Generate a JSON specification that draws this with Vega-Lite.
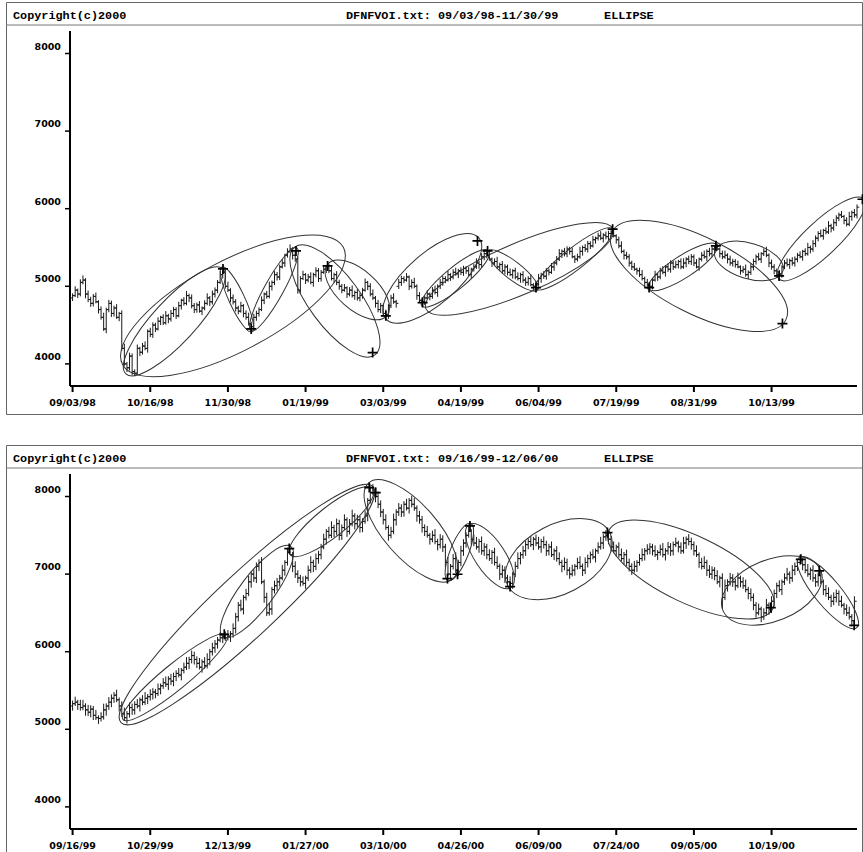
{
"$schema": "https://vega.github.io/schema/vega-lite/v6.json",
"padding": {"left": 5, "top": 1, "right": 1, "bottom": 0},
"params": [{"name": "kx", "expr": "787/304"}, {"name": "ky", "expr": "355/4575"}],
"config": {"view": {"stroke": "#666", "strokeWidth": 1}},
"spacing": 29,
"datasets": {
"topBars": [
{"i":0,"o":4850,"h":4910,"l":4810,"c":4880},{"i":1,"o":4880,"h":5000,"l":4860,"c":4950},{"i":2,"o":4950,"h":4970,"l":4850,"c":4900},{"i":3,"o":4900,"h":5090,"l":4870,"c":5050},{"i":4,"o":5050,"h":5140,"l":5025,"c":5080},{"i":5,"o":5080,"h":5105,"l":4845,"c":4900},{"i":6,"o":4900,"h":4945,"l":4795,"c":4830},{"i":7,"o":4830,"h":4865,"l":4735,"c":4780},{"i":8,"o":4780,"h":4900,"l":4740,"c":4870},{"i":9,"o":4870,"h":4920,"l":4780,"c":4800},
{"i":10,"o":4800,"h":4820,"l":4650,"c":4700},{"i":11,"o":4700,"h":4740,"l":4570,"c":4600},{"i":12,"o":4600,"h":4660,"l":4425,"c":4450},{"i":13,"o":4450,"h":4725,"l":4395,"c":4700},{"i":14,"o":4700,"h":4825,"l":4665,"c":4780},{"i":15,"o":4780,"h":4815,"l":4605,"c":4650},{"i":16,"o":4650,"h":4750,"l":4610,"c":4720},{"i":17,"o":4720,"h":4770,"l":4580,"c":4600},{"i":18,"o":4600,"h":4670,"l":4550,"c":4650},{"i":19,"o":4650,"h":4690,"l":4170,"c":4200},
{"i":20,"o":4200,"h":4260,"l":3975,"c":4000},{"i":21,"o":4000,"h":4025,"l":3895,"c":3950},{"i":22,"o":3950,"h":4145,"l":3915,"c":4100},{"i":23,"o":4100,"h":4135,"l":3855,"c":3900},{"i":24,"o":3900,"h":3930,"l":3840,"c":3880},{"i":25,"o":3880,"h":4250,"l":3860,"c":4200},{"i":26,"o":4200,"h":4220,"l":4100,"c":4150},{"i":27,"o":4150,"h":4270,"l":4120,"c":4230},{"i":28,"o":4230,"h":4290,"l":4175,"c":4200},{"i":29,"o":4200,"h":4445,"l":4145,"c":4420},
{"i":30,"o":4420,"h":4465,"l":4345,"c":4380},{"i":31,"o":4380,"h":4535,"l":4335,"c":4500},{"i":32,"o":4500,"h":4530,"l":4410,"c":4450},{"i":33,"o":4450,"h":4600,"l":4430,"c":4550},{"i":34,"o":4550,"h":4620,"l":4500,"c":4600},{"i":35,"o":4600,"h":4640,"l":4500,"c":4530},{"i":36,"o":4530,"h":4680,"l":4505,"c":4620},{"i":37,"o":4620,"h":4645,"l":4525,"c":4580},{"i":38,"o":4580,"h":4695,"l":4545,"c":4650},{"i":39,"o":4650,"h":4735,"l":4605,"c":4700},
{"i":40,"o":4700,"h":4730,"l":4580,"c":4620},{"i":41,"o":4620,"h":4800,"l":4600,"c":4750},{"i":42,"o":4750,"h":4840,"l":4700,"c":4820},{"i":43,"o":4820,"h":4860,"l":4750,"c":4780},{"i":44,"o":4780,"h":4940,"l":4755,"c":4880},{"i":45,"o":4880,"h":4905,"l":4795,"c":4850},{"i":46,"o":4850,"h":4895,"l":4715,"c":4750},{"i":47,"o":4750,"h":4785,"l":4655,"c":4700},{"i":48,"o":4700,"h":4790,"l":4660,"c":4760},{"i":49,"o":4760,"h":4810,"l":4660,"c":4680},
{"i":50,"o":4680,"h":4740,"l":4630,"c":4720},{"i":51,"o":4720,"h":4820,"l":4690,"c":4780},{"i":52,"o":4780,"h":4910,"l":4755,"c":4850},{"i":53,"o":4850,"h":4875,"l":4745,"c":4800},{"i":54,"o":4800,"h":4945,"l":4765,"c":4900},{"i":55,"o":4900,"h":4985,"l":4855,"c":4950},{"i":56,"o":4950,"h":5080,"l":4910,"c":5050},{"i":57,"o":5050,"h":5200,"l":5030,"c":5150},{"i":58,"o":5150,"h":5200,"l":5100,"c":5180},{"i":59,"o":5180,"h":5220,"l":4970,"c":5000},
{"i":60,"o":5000,"h":5060,"l":4925,"c":4950},{"i":61,"o":4950,"h":4975,"l":4795,"c":4850},{"i":62,"o":4850,"h":4895,"l":4765,"c":4800},{"i":63,"o":4800,"h":4835,"l":4675,"c":4720},{"i":64,"o":4720,"h":4750,"l":4640,"c":4680},{"i":65,"o":4680,"h":4800,"l":4660,"c":4750},{"i":66,"o":4750,"h":4770,"l":4600,"c":4650},{"i":67,"o":4650,"h":4690,"l":4570,"c":4600},{"i":68,"o":4600,"h":4660,"l":4495,"c":4520},{"i":69,"o":4520,"h":4545,"l":4425,"c":4480},
{"i":70,"o":4480,"h":4645,"l":4445,"c":4600},{"i":71,"o":4600,"h":4685,"l":4555,"c":4650},{"i":72,"o":4650,"h":4730,"l":4610,"c":4700},{"i":73,"o":4700,"h":4870,"l":4680,"c":4820},{"i":74,"o":4820,"h":4920,"l":4770,"c":4900},{"i":75,"o":4900,"h":4940,"l":4840,"c":4870},{"i":76,"o":4870,"h":5060,"l":4845,"c":5000},{"i":77,"o":5000,"h":5075,"l":4945,"c":5050},{"i":78,"o":5050,"h":5195,"l":5015,"c":5150},{"i":79,"o":5150,"h":5185,"l":5075,"c":5120},
{"i":80,"o":5120,"h":5280,"l":5080,"c":5250},{"i":81,"o":5250,"h":5350,"l":5230,"c":5300},{"i":82,"o":5300,"h":5420,"l":5250,"c":5400},{"i":83,"o":5400,"h":5490,"l":5370,"c":5450},{"i":84,"o":5450,"h":5540,"l":5425,"c":5480},{"i":85,"o":5480,"h":5505,"l":5345,"c":5400},{"i":86,"o":5400,"h":5445,"l":5315,"c":5350},{"i":87,"o":5350,"h":5385,"l":4905,"c":4950},{"i":88,"o":4950,"h":5130,"l":4910,"c":5100},{"i":89,"o":5100,"h":5200,"l":5080,"c":5150},
{"i":90,"o":5150,"h":5170,"l":5030,"c":5080},{"i":91,"o":5080,"h":5160,"l":5050,"c":5120},{"i":92,"o":5120,"h":5180,"l":5025,"c":5050},{"i":93,"o":5050,"h":5175,"l":4995,"c":5150},{"i":94,"o":5150,"h":5245,"l":5115,"c":5200},{"i":95,"o":5200,"h":5235,"l":5055,"c":5100},{"i":96,"o":5100,"h":5210,"l":5060,"c":5180},{"i":97,"o":5180,"h":5270,"l":5160,"c":5220},{"i":98,"o":5220,"h":5270,"l":5170,"c":5250},{"i":99,"o":5250,"h":5290,"l":5170,"c":5200},
{"i":100,"o":5200,"h":5260,"l":5075,"c":5100},{"i":101,"o":5100,"h":5175,"l":5045,"c":5150},{"i":102,"o":5150,"h":5195,"l":5015,"c":5050},{"i":103,"o":5050,"h":5085,"l":4955,"c":5000},{"i":104,"o":5000,"h":5030,"l":4910,"c":4950},{"i":105,"o":4950,"h":5030,"l":4930,"c":4980},{"i":106,"o":4980,"h":5000,"l":4850,"c":4900},{"i":107,"o":4900,"h":4990,"l":4870,"c":4950},{"i":108,"o":4950,"h":5010,"l":4855,"c":4880},{"i":109,"o":4880,"h":4945,"l":4825,"c":4920},
{"i":110,"o":4920,"h":4965,"l":4815,"c":4850},{"i":111,"o":4850,"h":4915,"l":4805,"c":4880},{"i":112,"o":4880,"h":4980,"l":4840,"c":4950},{"i":113,"o":4950,"h":5100,"l":4930,"c":5050},{"i":114,"o":5050,"h":5070,"l":4950,"c":5000},{"i":115,"o":5000,"h":5040,"l":4870,"c":4900},{"i":116,"o":4900,"h":4960,"l":4825,"c":4850},{"i":117,"o":4850,"h":4875,"l":4725,"c":4780},{"i":118,"o":4780,"h":4825,"l":4665,"c":4700},{"i":119,"o":4700,"h":4785,"l":4655,"c":4750},
{"i":120,"o":4750,"h":4780,"l":4610,"c":4650},{"i":121,"o":4650,"h":4700,"l":4610,"c":4630},{"i":122,"o":4630,"h":4770,"l":4580,"c":4750},{"i":123,"o":4750,"h":4890,"l":4720,"c":4850},{"i":124,"o":4850,"h":4910,"l":4775,"c":4800},{"i":125,"o":4800,"h":4825,"l":4725,"c":4780},{"i":126,"o":5000,"h":5095,"l":4965,"c":5050},{"i":127,"o":5050,"h":5135,"l":5005,"c":5100},{"i":128,"o":5100,"h":5130,"l":5040,"c":5080},{"i":129,"o":5080,"h":5170,"l":5060,"c":5120},
{"i":130,"o":5120,"h":5140,"l":4950,"c":5000},{"i":131,"o":5000,"h":5090,"l":4970,"c":5050},{"i":132,"o":5050,"h":5110,"l":4975,"c":5000},{"i":133,"o":5000,"h":5025,"l":4825,"c":4880},{"i":134,"o":4880,"h":4925,"l":4785,"c":4820},{"i":135,"o":4820,"h":4855,"l":4755,"c":4800},{"i":136,"o":4800,"h":4880,"l":4760,"c":4850},{"i":137,"o":4850,"h":4950,"l":4830,"c":4900},{"i":138,"o":4900,"h":4920,"l":4820,"c":4870},{"i":139,"o":4870,"h":4990,"l":4840,"c":4950},
{"i":140,"o":4950,"h":5010,"l":4895,"c":4920},{"i":141,"o":4920,"h":5025,"l":4865,"c":5000},{"i":142,"o":5000,"h":5095,"l":4965,"c":5050},{"i":143,"o":5050,"h":5135,"l":5005,"c":5100},{"i":144,"o":5100,"h":5130,"l":5040,"c":5080},{"i":145,"o":5080,"h":5200,"l":5060,"c":5150},{"i":146,"o":5150,"h":5170,"l":5070,"c":5120},{"i":147,"o":5120,"h":5220,"l":5090,"c":5180},{"i":148,"o":5180,"h":5240,"l":5135,"c":5160},{"i":149,"o":5160,"h":5225,"l":5105,"c":5200},
{"i":150,"o":5200,"h":5245,"l":5145,"c":5180},{"i":151,"o":5180,"h":5265,"l":5135,"c":5230},{"i":152,"o":5230,"h":5260,"l":5160,"c":5200},{"i":153,"o":5200,"h":5250,"l":5130,"c":5150},{"i":154,"o":5150,"h":5240,"l":5100,"c":5220},{"i":155,"o":5220,"h":5290,"l":5190,"c":5250},{"i":156,"o":5250,"h":5360,"l":5225,"c":5300},{"i":157,"o":5300,"h":5325,"l":5225,"c":5280},{"i":158,"o":5280,"h":5425,"l":5245,"c":5380},{"i":159,"o":5380,"h":5455,"l":5335,"c":5420},
{"i":160,"o":5420,"h":5450,"l":5360,"c":5400},{"i":161,"o":5400,"h":5450,"l":5330,"c":5350},{"i":162,"o":5350,"h":5370,"l":5250,"c":5300},{"i":163,"o":5300,"h":5360,"l":5270,"c":5320},{"i":164,"o":5320,"h":5380,"l":5225,"c":5250},{"i":165,"o":5250,"h":5305,"l":5195,"c":5280},{"i":166,"o":5280,"h":5325,"l":5165,"c":5200},{"i":167,"o":5200,"h":5285,"l":5155,"c":5250},{"i":168,"o":5250,"h":5280,"l":5140,"c":5180},{"i":169,"o":5180,"h":5230,"l":5130,"c":5150},
{"i":170,"o":5150,"h":5220,"l":5100,"c":5200},{"i":171,"o":5200,"h":5240,"l":5090,"c":5120},{"i":172,"o":5120,"h":5180,"l":5075,"c":5100},{"i":173,"o":5100,"h":5175,"l":5045,"c":5150},{"i":174,"o":5150,"h":5195,"l":5045,"c":5080},{"i":175,"o":5080,"h":5115,"l":5005,"c":5050},{"i":176,"o":5050,"h":5130,"l":5010,"c":5100},{"i":177,"o":5100,"h":5150,"l":5000,"c":5020},{"i":178,"o":5020,"h":5040,"l":4950,"c":5000},{"i":179,"o":5000,"h":5070,"l":4970,"c":5030},
{"i":180,"o":5030,"h":5160,"l":5005,"c":5100},{"i":181,"o":5100,"h":5175,"l":5045,"c":5150},{"i":182,"o":5150,"h":5195,"l":5095,"c":5130},{"i":183,"o":5130,"h":5235,"l":5085,"c":5200},{"i":184,"o":5200,"h":5230,"l":5140,"c":5180},{"i":185,"o":5180,"h":5300,"l":5160,"c":5250},{"i":186,"o":5250,"h":5320,"l":5200,"c":5300},{"i":187,"o":5300,"h":5390,"l":5270,"c":5350},{"i":188,"o":5350,"h":5480,"l":5325,"c":5420},{"i":189,"o":5420,"h":5475,"l":5365,"c":5450},
{"i":190,"o":5450,"h":5495,"l":5385,"c":5420},{"i":191,"o":5420,"h":5515,"l":5375,"c":5480},{"i":192,"o":5480,"h":5510,"l":5410,"c":5450},{"i":193,"o":5450,"h":5500,"l":5360,"c":5380},{"i":194,"o":5380,"h":5400,"l":5300,"c":5350},{"i":195,"o":5350,"h":5420,"l":5320,"c":5380},{"i":196,"o":5380,"h":5510,"l":5355,"c":5450},{"i":197,"o":5450,"h":5525,"l":5395,"c":5500},{"i":198,"o":5500,"h":5545,"l":5445,"c":5480},{"i":199,"o":5480,"h":5585,"l":5435,"c":5550},
{"i":200,"o":5550,"h":5580,"l":5480,"c":5520},{"i":201,"o":5520,"h":5650,"l":5500,"c":5600},{"i":202,"o":5600,"h":5640,"l":5550,"c":5620},{"i":203,"o":5620,"h":5690,"l":5590,"c":5650},{"i":204,"o":5650,"h":5710,"l":5595,"c":5620},{"i":205,"o":5620,"h":5685,"l":5565,"c":5660},{"i":206,"o":5660,"h":5705,"l":5605,"c":5640},{"i":207,"o":5640,"h":5715,"l":5595,"c":5680},{"i":208,"o":5680,"h":5730,"l":5640,"c":5700},{"i":209,"o":5700,"h":5750,"l":5630,"c":5650},
{"i":210,"o":5650,"h":5670,"l":5550,"c":5600},{"i":211,"o":5600,"h":5640,"l":5490,"c":5520},{"i":212,"o":5520,"h":5580,"l":5425,"c":5450},{"i":213,"o":5450,"h":5475,"l":5345,"c":5400},{"i":214,"o":5400,"h":5445,"l":5345,"c":5380},{"i":215,"o":5380,"h":5415,"l":5255,"c":5300},{"i":216,"o":5300,"h":5330,"l":5210,"c":5250},{"i":217,"o":5250,"h":5300,"l":5200,"c":5220},{"i":218,"o":5220,"h":5240,"l":5150,"c":5200},{"i":219,"o":5200,"h":5240,"l":5120,"c":5150},
{"i":220,"o":5150,"h":5210,"l":5075,"c":5100},{"i":221,"o":5100,"h":5125,"l":4995,"c":5050},{"i":222,"o":5050,"h":5095,"l":4985,"c":5020},{"i":223,"o":5020,"h":5055,"l":4955,"c":5000},{"i":224,"o":5000,"h":5110,"l":4960,"c":5080},{"i":225,"o":5080,"h":5200,"l":5060,"c":5150},{"i":226,"o":5150,"h":5170,"l":5070,"c":5120},{"i":227,"o":5120,"h":5240,"l":5090,"c":5200},{"i":228,"o":5200,"h":5260,"l":5155,"c":5180},{"i":229,"o":5180,"h":5275,"l":5125,"c":5250},
{"i":230,"o":5250,"h":5295,"l":5185,"c":5220},{"i":231,"o":5220,"h":5335,"l":5175,"c":5300},{"i":232,"o":5300,"h":5330,"l":5210,"c":5250},{"i":233,"o":5250,"h":5330,"l":5230,"c":5280},{"i":234,"o":5280,"h":5340,"l":5230,"c":5320},{"i":235,"o":5320,"h":5360,"l":5220,"c":5250},{"i":236,"o":5250,"h":5360,"l":5225,"c":5300},{"i":237,"o":5300,"h":5375,"l":5245,"c":5350},{"i":238,"o":5350,"h":5395,"l":5285,"c":5320},{"i":239,"o":5320,"h":5415,"l":5275,"c":5380},
{"i":240,"o":5380,"h":5410,"l":5260,"c":5300},{"i":241,"o":5300,"h":5350,"l":5230,"c":5250},{"i":242,"o":5250,"h":5370,"l":5200,"c":5350},{"i":243,"o":5350,"h":5440,"l":5320,"c":5400},{"i":244,"o":5400,"h":5460,"l":5355,"c":5380},{"i":245,"o":5380,"h":5475,"l":5325,"c":5450},{"i":246,"o":5450,"h":5495,"l":5385,"c":5420},{"i":247,"o":5420,"h":5515,"l":5375,"c":5480},{"i":248,"o":5480,"h":5530,"l":5440,"c":5500},{"i":249,"o":5500,"h":5550,"l":5460,"c":5480},
{"i":250,"o":5480,"h":5500,"l":5370,"c":5420},{"i":251,"o":5420,"h":5460,"l":5350,"c":5380},{"i":252,"o":5380,"h":5460,"l":5355,"c":5400},{"i":253,"o":5400,"h":5425,"l":5295,"c":5350},{"i":254,"o":5350,"h":5395,"l":5265,"c":5300},{"i":255,"o":5300,"h":5355,"l":5255,"c":5320},{"i":256,"o":5320,"h":5350,"l":5240,"c":5280},{"i":257,"o":5280,"h":5330,"l":5230,"c":5250},{"i":258,"o":5250,"h":5270,"l":5150,"c":5200},{"i":259,"o":5200,"h":5260,"l":5170,"c":5220},
{"i":260,"o":5220,"h":5280,"l":5125,"c":5150},{"i":261,"o":5150,"h":5205,"l":5095,"c":5180},{"i":262,"o":5180,"h":5295,"l":5145,"c":5250},{"i":263,"o":5250,"h":5355,"l":5205,"c":5320},{"i":264,"o":5320,"h":5410,"l":5280,"c":5380},{"i":265,"o":5380,"h":5430,"l":5330,"c":5350},{"i":266,"o":5350,"h":5440,"l":5300,"c":5420},{"i":267,"o":5420,"h":5490,"l":5390,"c":5450},{"i":268,"o":5450,"h":5510,"l":5375,"c":5400},{"i":269,"o":5400,"h":5425,"l":5245,"c":5300},
{"i":270,"o":5300,"h":5345,"l":5215,"c":5250},{"i":271,"o":5250,"h":5285,"l":5155,"c":5200},{"i":272,"o":5200,"h":5230,"l":5110,"c":5150},{"i":273,"o":5150,"h":5210,"l":5130,"c":5160},{"i":274,"o":5160,"h":5270,"l":5110,"c":5250},{"i":275,"o":5250,"h":5340,"l":5220,"c":5300},{"i":276,"o":5300,"h":5360,"l":5255,"c":5280},{"i":277,"o":5280,"h":5355,"l":5225,"c":5330},{"i":278,"o":5330,"h":5375,"l":5265,"c":5300},{"i":279,"o":5300,"h":5385,"l":5255,"c":5350},
{"i":280,"o":5350,"h":5430,"l":5310,"c":5400},{"i":281,"o":5400,"h":5450,"l":5360,"c":5380},{"i":282,"o":5380,"h":5470,"l":5330,"c":5450},{"i":283,"o":5450,"h":5490,"l":5390,"c":5420},{"i":284,"o":5420,"h":5560,"l":5395,"c":5500},{"i":285,"o":5500,"h":5525,"l":5425,"c":5480},{"i":286,"o":5480,"h":5595,"l":5445,"c":5550},{"i":287,"o":5550,"h":5655,"l":5505,"c":5620},{"i":288,"o":5620,"h":5710,"l":5580,"c":5680},{"i":289,"o":5680,"h":5730,"l":5630,"c":5650},
{"i":290,"o":5650,"h":5740,"l":5600,"c":5720},{"i":291,"o":5720,"h":5760,"l":5670,"c":5700},{"i":292,"o":5700,"h":5840,"l":5675,"c":5780},{"i":293,"o":5780,"h":5805,"l":5695,"c":5750},{"i":294,"o":5750,"h":5865,"l":5715,"c":5820},{"i":295,"o":5820,"h":5915,"l":5775,"c":5880},{"i":296,"o":5880,"h":5950,"l":5840,"c":5920},{"i":297,"o":5920,"h":5970,"l":5880,"c":5900},{"i":298,"o":5900,"h":5920,"l":5800,"c":5850},{"i":299,"o":5850,"h":5890,"l":5770,"c":5800},
{"i":300,"o":5800,"h":5960,"l":5775,"c":5900},{"i":301,"o":5900,"h":5975,"l":5845,"c":5950},{"i":302,"o":5950,"h":5995,"l":5885,"c":5920},{"i":303,"o":5920,"h":6055,"l":5875,"c":6020}
],
"botBars": [
{"i":0,"o":5300,"h":5370,"l":5240,"c":5330},{"i":1,"o":5330,"h":5420,"l":5300,"c":5350},{"i":2,"o":5350,"h":5380,"l":5250,"c":5320},{"i":3,"o":5320,"h":5380,"l":5240,"c":5280},{"i":4,"o":5280,"h":5380,"l":5245,"c":5300},{"i":5,"o":5300,"h":5335,"l":5175,"c":5250},{"i":6,"o":5250,"h":5315,"l":5170,"c":5220},{"i":7,"o":5220,"h":5310,"l":5155,"c":5260},{"i":8,"o":5260,"h":5300,"l":5120,"c":5180},{"i":9,"o":5180,"h":5250,"l":5120,"c":5150},
{"i":10,"o":5150,"h":5180,"l":5070,"c":5140},{"i":11,"o":5140,"h":5220,"l":5100,"c":5160},{"i":12,"o":5160,"h":5330,"l":5125,"c":5250},{"i":13,"o":5250,"h":5335,"l":5175,"c":5300},{"i":14,"o":5300,"h":5415,"l":5250,"c":5350},{"i":15,"o":5350,"h":5450,"l":5285,"c":5400},{"i":16,"o":5400,"h":5480,"l":5340,"c":5440},{"i":17,"o":5440,"h":5510,"l":5350,"c":5380},{"i":18,"o":5380,"h":5410,"l":5230,"c":5300},{"i":19,"o":5300,"h":5360,"l":5160,"c":5200},
{"i":20,"o":5200,"h":5280,"l":5115,"c":5150},{"i":21,"o":5150,"h":5235,"l":5075,"c":5200},{"i":22,"o":5200,"h":5345,"l":5150,"c":5280},{"i":23,"o":5280,"h":5330,"l":5185,"c":5250},{"i":24,"o":5250,"h":5360,"l":5190,"c":5320},{"i":25,"o":5320,"h":5390,"l":5270,"c":5300},{"i":26,"o":5300,"h":5410,"l":5230,"c":5380},{"i":27,"o":5380,"h":5440,"l":5310,"c":5350},{"i":28,"o":5350,"h":5480,"l":5315,"c":5400},{"i":29,"o":5400,"h":5455,"l":5325,"c":5420},
{"i":30,"o":5420,"h":5515,"l":5370,"c":5450},{"i":31,"o":5450,"h":5530,"l":5385,"c":5480},{"i":32,"o":5480,"h":5520,"l":5400,"c":5460},{"i":33,"o":5460,"h":5590,"l":5430,"c":5520},{"i":34,"o":5520,"h":5590,"l":5450,"c":5560},{"i":35,"o":5560,"h":5660,"l":5520,"c":5600},{"i":36,"o":5600,"h":5680,"l":5545,"c":5580},{"i":37,"o":5580,"h":5685,"l":5505,"c":5650},{"i":38,"o":5650,"h":5715,"l":5570,"c":5620},{"i":39,"o":5620,"h":5730,"l":5555,"c":5680},
{"i":40,"o":5680,"h":5760,"l":5620,"c":5720},{"i":41,"o":5720,"h":5790,"l":5670,"c":5700},{"i":42,"o":5700,"h":5790,"l":5630,"c":5760},{"i":43,"o":5760,"h":5860,"l":5720,"c":5800},{"i":44,"o":5800,"h":5930,"l":5765,"c":5850},{"i":45,"o":5850,"h":5935,"l":5775,"c":5900},{"i":46,"o":5900,"h":6015,"l":5850,"c":5950},{"i":47,"o":5950,"h":6000,"l":5835,"c":5900},{"i":48,"o":5900,"h":5940,"l":5790,"c":5850},{"i":49,"o":5850,"h":5920,"l":5770,"c":5800},
{"i":50,"o":5800,"h":5900,"l":5730,"c":5870},{"i":51,"o":5870,"h":5930,"l":5780,"c":5820},{"i":52,"o":5820,"h":5980,"l":5785,"c":5900},{"i":53,"o":5900,"h":6035,"l":5825,"c":6000},{"i":54,"o":6000,"h":6115,"l":5950,"c":6050},{"i":55,"o":6050,"h":6150,"l":5985,"c":6100},{"i":56,"o":6100,"h":6190,"l":6040,"c":6150},{"i":57,"o":6150,"h":6250,"l":6120,"c":6180},{"i":58,"o":6180,"h":6230,"l":6110,"c":6200},{"i":59,"o":6200,"h":6260,"l":6140,"c":6180},
{"i":60,"o":6180,"h":6280,"l":6145,"c":6200},{"i":61,"o":6200,"h":6265,"l":6125,"c":6230},{"i":62,"o":6230,"h":6365,"l":6180,"c":6300},{"i":63,"o":6300,"h":6500,"l":6235,"c":6450},{"i":64,"o":6450,"h":6640,"l":6390,"c":6600},{"i":65,"o":6600,"h":6670,"l":6520,"c":6550},{"i":66,"o":6550,"h":6730,"l":6480,"c":6700},{"i":67,"o":6700,"h":6810,"l":6660,"c":6750},{"i":68,"o":6750,"h":6980,"l":6715,"c":6900},{"i":69,"o":6900,"h":7035,"l":6825,"c":7000},
{"i":70,"o":7000,"h":7065,"l":6900,"c":6950},{"i":71,"o":6950,"h":7150,"l":6885,"c":7100},{"i":72,"o":7100,"h":7190,"l":7040,"c":7150},{"i":73,"o":7150,"h":7220,"l":6870,"c":6900},{"i":74,"o":6900,"h":6930,"l":6630,"c":6700},{"i":75,"o":6700,"h":6760,"l":6460,"c":6500},{"i":76,"o":6500,"h":6630,"l":6465,"c":6550},{"i":77,"o":6550,"h":6835,"l":6475,"c":6800},{"i":78,"o":6800,"h":6915,"l":6750,"c":6850},{"i":79,"o":6850,"h":6950,"l":6785,"c":6900},
{"i":80,"o":6900,"h":6990,"l":6840,"c":6950},{"i":81,"o":6950,"h":7120,"l":6920,"c":7050},{"i":82,"o":7050,"h":7180,"l":6980,"c":7150},{"i":83,"o":7150,"h":7340,"l":7110,"c":7280},{"i":84,"o":7280,"h":7360,"l":7245,"c":7250},{"i":85,"o":7250,"h":7285,"l":7025,"c":7100},{"i":86,"o":7100,"h":7165,"l":6950,"c":7000},{"i":87,"o":7000,"h":7050,"l":6885,"c":6950},{"i":88,"o":6950,"h":6990,"l":6840,"c":6900},{"i":89,"o":6900,"h":6970,"l":6850,"c":6880},
{"i":90,"o":6880,"h":6980,"l":6810,"c":6950},{"i":91,"o":6950,"h":7110,"l":6910,"c":7050},{"i":92,"o":7050,"h":7230,"l":7015,"c":7150},{"i":93,"o":7150,"h":7185,"l":7025,"c":7100},{"i":94,"o":7100,"h":7265,"l":7050,"c":7200},{"i":95,"o":7200,"h":7300,"l":7135,"c":7250},{"i":96,"o":7250,"h":7390,"l":7190,"c":7350},{"i":97,"o":7350,"h":7520,"l":7320,"c":7450},{"i":98,"o":7450,"h":7580,"l":7380,"c":7550},{"i":99,"o":7550,"h":7610,"l":7460,"c":7500},
{"i":100,"o":7500,"h":7680,"l":7465,"c":7600},{"i":101,"o":7600,"h":7635,"l":7475,"c":7550},{"i":102,"o":7550,"h":7715,"l":7500,"c":7650},{"i":103,"o":7650,"h":7700,"l":7435,"c":7500},{"i":104,"o":7500,"h":7640,"l":7440,"c":7600},{"i":105,"o":7600,"h":7770,"l":7570,"c":7700},{"i":106,"o":7700,"h":7730,"l":7480,"c":7550},{"i":107,"o":7550,"h":7710,"l":7510,"c":7650},{"i":108,"o":7650,"h":7830,"l":7615,"c":7750},{"i":109,"o":7750,"h":7785,"l":7575,"c":7650},
{"i":110,"o":7650,"h":7765,"l":7600,"c":7700},{"i":111,"o":7700,"h":7750,"l":7535,"c":7600},{"i":112,"o":7600,"h":7720,"l":7540,"c":7680},{"i":113,"o":7680,"h":7820,"l":7650,"c":7750},{"i":114,"o":7750,"h":7980,"l":7680,"c":7950},{"i":115,"o":7950,"h":8110,"l":7910,"c":8050},{"i":116,"o":8050,"h":8160,"l":8015,"c":8080},{"i":117,"o":8080,"h":8115,"l":7925,"c":8000},{"i":118,"o":8000,"h":8065,"l":7850,"c":7900},{"i":119,"o":7900,"h":7950,"l":7735,"c":7800},
{"i":120,"o":7800,"h":7840,"l":7640,"c":7700},{"i":121,"o":7700,"h":7770,"l":7570,"c":7600},{"i":122,"o":7600,"h":7630,"l":7430,"c":7500},{"i":123,"o":7500,"h":7610,"l":7460,"c":7550},{"i":124,"o":7550,"h":7780,"l":7515,"c":7700},{"i":125,"o":7700,"h":7835,"l":7625,"c":7800},{"i":126,"o":7800,"h":7915,"l":7750,"c":7850},{"i":127,"o":7850,"h":7900,"l":7735,"c":7800},{"i":128,"o":7800,"h":7940,"l":7740,"c":7900},{"i":129,"o":7900,"h":7970,"l":7820,"c":7850},
{"i":130,"o":7850,"h":7980,"l":7780,"c":7950},{"i":131,"o":7950,"h":8010,"l":7860,"c":7900},{"i":132,"o":7900,"h":7980,"l":7815,"c":7850},{"i":133,"o":7850,"h":7885,"l":7675,"c":7750},{"i":134,"o":7750,"h":7815,"l":7650,"c":7700},{"i":135,"o":7700,"h":7750,"l":7535,"c":7600},{"i":136,"o":7600,"h":7640,"l":7490,"c":7550},{"i":137,"o":7550,"h":7620,"l":7470,"c":7500},{"i":138,"o":7500,"h":7530,"l":7380,"c":7450},{"i":139,"o":7450,"h":7560,"l":7410,"c":7500},
{"i":140,"o":7500,"h":7580,"l":7385,"c":7420},{"i":141,"o":7420,"h":7455,"l":7305,"c":7380},{"i":142,"o":7380,"h":7515,"l":7330,"c":7450},{"i":143,"o":7450,"h":7500,"l":7285,"c":7350},{"i":144,"o":7350,"h":7390,"l":7090,"c":7150},{"i":145,"o":7150,"h":7220,"l":6970,"c":7000},{"i":146,"o":7000,"h":7130,"l":6930,"c":7100},{"i":147,"o":7100,"h":7260,"l":7060,"c":7200},{"i":148,"o":7200,"h":7280,"l":7015,"c":7050},{"i":149,"o":7050,"h":7185,"l":6975,"c":7150},
{"i":150,"o":7150,"h":7365,"l":7100,"c":7300},{"i":151,"o":7300,"h":7450,"l":7235,"c":7400},{"i":152,"o":7400,"h":7540,"l":7340,"c":7500},{"i":153,"o":7500,"h":7620,"l":7470,"c":7550},{"i":154,"o":7550,"h":7580,"l":7380,"c":7450},{"i":155,"o":7450,"h":7510,"l":7360,"c":7400},{"i":156,"o":7400,"h":7480,"l":7315,"c":7350},{"i":157,"o":7350,"h":7455,"l":7275,"c":7420},{"i":158,"o":7420,"h":7485,"l":7250,"c":7300},{"i":159,"o":7300,"h":7400,"l":7235,"c":7350},
{"i":160,"o":7350,"h":7390,"l":7190,"c":7250},{"i":161,"o":7250,"h":7320,"l":7170,"c":7200},{"i":162,"o":7200,"h":7310,"l":7130,"c":7280},{"i":163,"o":7280,"h":7340,"l":7110,"c":7150},{"i":164,"o":7150,"h":7230,"l":7065,"c":7100},{"i":165,"o":7100,"h":7135,"l":6925,"c":7000},{"i":166,"o":7000,"h":7115,"l":6950,"c":7050},{"i":167,"o":7050,"h":7100,"l":6885,"c":6950},{"i":168,"o":6950,"h":6990,"l":6840,"c":6900},{"i":169,"o":6900,"h":6970,"l":6850,"c":6880},
{"i":170,"o":6880,"h":7030,"l":6810,"c":7000},{"i":171,"o":7000,"h":7160,"l":6960,"c":7100},{"i":172,"o":7100,"h":7280,"l":7065,"c":7200},{"i":173,"o":7200,"h":7285,"l":7125,"c":7250},{"i":174,"o":7250,"h":7365,"l":7200,"c":7300},{"i":175,"o":7300,"h":7430,"l":7235,"c":7380},{"i":176,"o":7380,"h":7460,"l":7320,"c":7420},{"i":177,"o":7420,"h":7490,"l":7350,"c":7380},{"i":178,"o":7380,"h":7480,"l":7310,"c":7450},{"i":179,"o":7450,"h":7510,"l":7360,"c":7400},
{"i":180,"o":7400,"h":7480,"l":7315,"c":7350},{"i":181,"o":7350,"h":7455,"l":7275,"c":7420},{"i":182,"o":7420,"h":7485,"l":7330,"c":7380},{"i":183,"o":7380,"h":7430,"l":7235,"c":7300},{"i":184,"o":7300,"h":7390,"l":7240,"c":7350},{"i":185,"o":7350,"h":7420,"l":7220,"c":7250},{"i":186,"o":7250,"h":7330,"l":7180,"c":7300},{"i":187,"o":7300,"h":7360,"l":7160,"c":7200},{"i":188,"o":7200,"h":7280,"l":7115,"c":7150},{"i":189,"o":7150,"h":7185,"l":7025,"c":7100},
{"i":190,"o":7100,"h":7215,"l":7050,"c":7150},{"i":191,"o":7150,"h":7200,"l":6985,"c":7050},{"i":192,"o":7050,"h":7090,"l":6940,"c":7000},{"i":193,"o":7000,"h":7120,"l":6970,"c":7050},{"i":194,"o":7050,"h":7130,"l":6980,"c":7100},{"i":195,"o":7100,"h":7210,"l":7060,"c":7150},{"i":196,"o":7150,"h":7230,"l":7065,"c":7100},{"i":197,"o":7100,"h":7135,"l":6975,"c":7050},{"i":198,"o":7050,"h":7215,"l":7000,"c":7150},{"i":199,"o":7150,"h":7250,"l":7085,"c":7200},
{"i":200,"o":7200,"h":7290,"l":7140,"c":7250},{"i":201,"o":7250,"h":7320,"l":7190,"c":7220},{"i":202,"o":7220,"h":7330,"l":7150,"c":7300},{"i":203,"o":7300,"h":7410,"l":7260,"c":7350},{"i":204,"o":7350,"h":7480,"l":7315,"c":7400},{"i":205,"o":7400,"h":7515,"l":7325,"c":7480},{"i":206,"o":7480,"h":7565,"l":7430,"c":7500},{"i":207,"o":7500,"h":7550,"l":7385,"c":7450},{"i":208,"o":7450,"h":7490,"l":7290,"c":7350},{"i":209,"o":7350,"h":7420,"l":7270,"c":7300},
{"i":210,"o":7300,"h":7380,"l":7230,"c":7350},{"i":211,"o":7350,"h":7410,"l":7210,"c":7250},{"i":212,"o":7250,"h":7330,"l":7165,"c":7200},{"i":213,"o":7200,"h":7285,"l":7125,"c":7250},{"i":214,"o":7250,"h":7315,"l":7100,"c":7150},{"i":215,"o":7150,"h":7200,"l":7035,"c":7100},{"i":216,"o":7100,"h":7140,"l":6990,"c":7050},{"i":217,"o":7050,"h":7170,"l":7020,"c":7100},{"i":218,"o":7100,"h":7180,"l":7030,"c":7150},{"i":219,"o":7150,"h":7260,"l":7110,"c":7200},
{"i":220,"o":7200,"h":7330,"l":7165,"c":7250},{"i":221,"o":7250,"h":7335,"l":7175,"c":7300},{"i":222,"o":7300,"h":7385,"l":7250,"c":7320},{"i":223,"o":7320,"h":7400,"l":7255,"c":7350},{"i":224,"o":7350,"h":7390,"l":7240,"c":7300},{"i":225,"o":7300,"h":7370,"l":7220,"c":7250},{"i":226,"o":7250,"h":7310,"l":7180,"c":7280},{"i":227,"o":7280,"h":7380,"l":7240,"c":7320},{"i":228,"o":7320,"h":7400,"l":7215,"c":7250},{"i":229,"o":7250,"h":7335,"l":7175,"c":7300},
{"i":230,"o":7300,"h":7415,"l":7250,"c":7350},{"i":231,"o":7350,"h":7400,"l":7235,"c":7300},{"i":232,"o":7300,"h":7420,"l":7240,"c":7380},{"i":233,"o":7380,"h":7470,"l":7350,"c":7400},{"i":234,"o":7400,"h":7430,"l":7280,"c":7350},{"i":235,"o":7350,"h":7410,"l":7260,"c":7300},{"i":236,"o":7300,"h":7480,"l":7265,"c":7400},{"i":237,"o":7400,"h":7485,"l":7325,"c":7450},{"i":238,"o":7450,"h":7515,"l":7370,"c":7420},{"i":239,"o":7420,"h":7470,"l":7315,"c":7380},
{"i":240,"o":7380,"h":7420,"l":7240,"c":7300},{"i":241,"o":7300,"h":7370,"l":7220,"c":7250},{"i":242,"o":7250,"h":7280,"l":7080,"c":7150},{"i":243,"o":7150,"h":7210,"l":7060,"c":7100},{"i":244,"o":7100,"h":7230,"l":7065,"c":7150},{"i":245,"o":7150,"h":7185,"l":6975,"c":7050},{"i":246,"o":7050,"h":7115,"l":6950,"c":7000},{"i":247,"o":7000,"h":7100,"l":6935,"c":7050},{"i":248,"o":7050,"h":7090,"l":6920,"c":6980},{"i":249,"o":6980,"h":7050,"l":6870,"c":6900},
{"i":250,"o":6900,"h":6980,"l":6830,"c":6950},{"i":251,"o":6950,"h":7010,"l":6550,"c":6700},{"i":252,"o":6700,"h":6930,"l":6665,"c":6850},{"i":253,"o":6850,"h":6935,"l":6775,"c":6900},{"i":254,"o":6900,"h":7015,"l":6850,"c":6950},{"i":255,"o":6950,"h":7000,"l":6835,"c":6900},{"i":256,"o":6900,"h":6940,"l":6790,"c":6850},{"i":257,"o":6850,"h":7020,"l":6820,"c":6950},{"i":258,"o":6950,"h":6980,"l":6830,"c":6900},{"i":259,"o":6900,"h":6960,"l":6810,"c":6850},
{"i":260,"o":6850,"h":6930,"l":6765,"c":6800},{"i":261,"o":6800,"h":6835,"l":6675,"c":6750},{"i":262,"o":6750,"h":6815,"l":6650,"c":6700},{"i":263,"o":6700,"h":6750,"l":6535,"c":6600},{"i":264,"o":6600,"h":6640,"l":6440,"c":6500},{"i":265,"o":6500,"h":6620,"l":6470,"c":6550},{"i":266,"o":6550,"h":6580,"l":6380,"c":6450},{"i":267,"o":6450,"h":6560,"l":6410,"c":6500},{"i":268,"o":6500,"h":6680,"l":6465,"c":6600},{"i":269,"o":6600,"h":6635,"l":6475,"c":6550},
{"i":270,"o":6550,"h":6715,"l":6500,"c":6650},{"i":271,"o":6650,"h":6800,"l":6585,"c":6750},{"i":272,"o":6750,"h":6890,"l":6690,"c":6850},{"i":273,"o":6850,"h":6920,"l":6770,"c":6800},{"i":274,"o":6800,"h":6930,"l":6730,"c":6900},{"i":275,"o":6900,"h":7010,"l":6860,"c":6950},{"i":276,"o":6950,"h":7080,"l":6915,"c":7000},{"i":277,"o":7000,"h":7035,"l":6875,"c":6950},{"i":278,"o":6950,"h":7115,"l":6900,"c":7050},{"i":279,"o":7050,"h":7150,"l":6985,"c":7100},
{"i":280,"o":7100,"h":7190,"l":7040,"c":7150},{"i":281,"o":7150,"h":7250,"l":7120,"c":7180},{"i":282,"o":7180,"h":7210,"l":7050,"c":7120},{"i":283,"o":7120,"h":7180,"l":7010,"c":7050},{"i":284,"o":7050,"h":7130,"l":6965,"c":7000},{"i":285,"o":7000,"h":7085,"l":6925,"c":7050},{"i":286,"o":7050,"h":7115,"l":6900,"c":6950},{"i":287,"o":6950,"h":7000,"l":6835,"c":6900},{"i":288,"o":6900,"h":7020,"l":6840,"c":6980},{"i":289,"o":6980,"h":7050,"l":6870,"c":6900},
{"i":290,"o":6900,"h":6930,"l":6730,"c":6800},{"i":291,"o":6800,"h":6860,"l":6710,"c":6750},{"i":292,"o":6750,"h":6830,"l":6665,"c":6700},{"i":293,"o":6700,"h":6735,"l":6575,"c":6650},{"i":294,"o":6650,"h":6765,"l":6600,"c":6700},{"i":295,"o":6700,"h":6800,"l":6635,"c":6750},{"i":296,"o":6750,"h":6790,"l":6590,"c":6650},{"i":297,"o":6650,"h":6720,"l":6570,"c":6600},{"i":298,"o":6600,"h":6630,"l":6480,"c":6550},{"i":299,"o":6550,"h":6610,"l":6460,"c":6500},
{"i":300,"o":6500,"h":6580,"l":6415,"c":6450},{"i":301,"o":6450,"h":6485,"l":6325,"c":6400},{"i":302,"o":6400,"h":6715,"l":6350,"c":6650}
],
"topEll": [
{"i1":20.6,"p1":3871,"i2":58.0,"p2":5224,"r":0.3},
{"i1":19.3,"p1":3992,"i2":104.6,"p2":5503,"r":0.36},
{"i1":57.7,"p1":5250,"i2":69.3,"p2":4412,"r":0.22},
{"i1":68.9,"p1":4425,"i2":86.6,"p2":5495,"r":0.2},
{"i1":85.9,"p1":5508,"i2":116.8,"p2":4116,"r":0.38},
{"i1":98.6,"p1":5289,"i2":121.4,"p2":4619,"r":0.5},
{"i1":121.0,"p1":4580,"i2":156.9,"p2":5624,"r":0.41},
{"i1":134.9,"p1":4747,"i2":160.8,"p2":5456,"r":0.25},
{"i1":136.5,"p1":4709,"i2":208.7,"p2":5740,"r":0.25},
{"i1":160.4,"p1":5456,"i2":179.7,"p2":4954,"r":0.28},
{"i1":179.0,"p1":4967,"i2":208.7,"p2":5740,"r":0.22},
{"i1":208.4,"p1":5701,"i2":275.5,"p2":4567,"r":0.39},
{"i1":222.6,"p1":4967,"i2":248.9,"p2":5534,"r":0.27},
{"i1":248.1,"p1":5456,"i2":274.4,"p2":5198,"r":0.5},
{"i1":272.8,"p1":5095,"i2":305.6,"p2":6126,"r":0.29}
],
"botEll": [
{"i1":18.7,"p1":5086,"i2":116.0,"p2":8128,"r":0.18},
{"i1":19.5,"p1":5125,"i2":59.6,"p2":6220,"r":0.19},
{"i1":58.1,"p1":6195,"i2":84.3,"p2":7355,"r":0.3},
{"i1":84.0,"p1":7251,"i2":116.0,"p2":8102,"r":0.28},
{"i1":114.4,"p1":8176,"i2":146.9,"p2":6939,"r":0.42},
{"i1":145.0,"p1":6916,"i2":153.8,"p2":7651,"r":0.3},
{"i1":153.1,"p1":7638,"i2":169.3,"p2":6826,"r":0.4},
{"i1":168.1,"p1":6851,"i2":207.5,"p2":7535,"r":0.6},
{"i1":207.2,"p1":7561,"i2":270.5,"p2":6556,"r":0.37},
{"i1":251.2,"p1":6532,"i2":289.0,"p2":7047,"r":0.58},
{"i1":280.6,"p1":7212,"i2":302.9,"p2":6310,"r":0.29}
],
"topPlus": [
{"i":58.1,"p":5224},{"i":69.0,"p":4451},{"i":86.3,"p":5456},{"i":98.5,"p":5263},{"i":115.9,"p":4146},{"i":121.0,"p":4619},{"i":135.2,"p":4790},{"i":156.4,"p":5585},{"i":160.3,"p":5456},{"i":179.0,"p":4983},{"i":208.6,"p":5736},{"i":222.7,"p":4983},{"i":248.5,"p":5521},{"i":272.9,"p":5134},{"i":274.2,"p":4519},{"i":305.1,"p":6122}
],
"botPlus": [
{"i":58.6,"p":6224},{"i":83.7,"p":7329},{"i":114.6,"p":8115},{"i":117.1,"p":8050},{"i":144.8,"p":6942},{"i":148.7,"p":6998},{"i":153.5,"p":7621},{"i":169.0,"p":6839},{"i":206.6,"p":7535},{"i":269.7,"p":6568},{"i":281.3,"p":7191},{"i":288.4,"p":7041},{"i":301.9,"p":6340}
],
"axisLines": [
{"i":-1,"p":3715,"i2":-1,"p2":8290,"w":"y"},{"i":-1,"p":3715,"i2":303,"p2":3715,"w":"x"}
],
"sepLine": [{"i":-25.72,"p":8367,"i2":304.93,"p2":8367}],
"yTicks": [
{"i":-1,"p":4000,"t":"4000"},{"i":-1,"p":5000,"t":"5000"},{"i":-1,"p":6000,"t":"6000"},{"i":-1,"p":7000,"t":"7000"},{"i":-1,"p":8000,"t":"8000"}
],
"topXTicks": [
{"i":0,"p":3715,"t":"09/03/98"},{"i":30,"p":3715,"t":"10/16/98"},{"i":60,"p":3715,"t":"11/30/98"},{"i":90,"p":3715,"t":"01/19/99"},{"i":120,"p":3715,"t":"03/03/99"},{"i":150,"p":3715,"t":"04/19/99"},{"i":180,"p":3715,"t":"06/04/99"},{"i":210,"p":3715,"t":"07/19/99"},{"i":240,"p":3715,"t":"08/31/99"},{"i":270,"p":3715,"t":"10/13/99"}
],
"botXTicks": [
{"i":0,"p":3715,"t":"09/16/99"},{"i":30,"p":3715,"t":"10/29/99"},{"i":60,"p":3715,"t":"12/13/99"},{"i":90,"p":3715,"t":"01/27/00"},{"i":120,"p":3715,"t":"03/10/00"},{"i":150,"p":3715,"t":"04/26/00"},{"i":180,"p":3715,"t":"06/09/00"},{"i":210,"p":3715,"t":"07/24/00"},{"i":240,"p":3715,"t":"09/05/00"},{"i":270,"p":3715,"t":"10/19/00"}
],
"topHead": [
{"i":-23.0,"p":8496,"t":"Copyright(c)2000"},{"i":105.6,"p":8496,"t":"DFNFVOI.txt: 09/03/98-11/30/99"},{"i":205.3,"p":8496,"t":"ELLIPSE"}
],
"botHead": [
{"i":-23.0,"p":8496,"t":"Copyright(c)2000"},{"i":105.6,"p":8496,"t":"DFNFVOI.txt: 09/16/99-12/06/00"},{"i":205.3,"p":8496,"t":"ELLIPSE"}
]
},
"vconcat": [
{
"width": 856, "height": 412,
"encoding": {
 "x": {"field": "i", "type": "quantitative", "scale": {"domain": [-25.72, 304.93], "nice": false, "zero": false}, "axis": null},
 "y": {"field": "p", "type": "quantitative", "scale": {"domain": [3354.2, 8663.7], "nice": false, "zero": false}, "axis": null}
},
"layer": [
{"data": {"name": "topBars"},
 "mark": {"type": "rule", "color": "#1a1a1a", "strokeWidth": 1},
 "encoding": {"y": {"field": "l", "type": "quantitative"}, "y2": {"field": "h"}}},
{"data": {"name": "topBars"},
 "mark": {"type": "point", "shape": "M-1,0H0", "size": 20, "filled": false, "stroke": "#1a1a1a", "strokeWidth": 1, "opacity": 1},
 "encoding": {"y": {"field": "o", "type": "quantitative"}}},
{"data": {"name": "topBars"},
 "mark": {"type": "point", "shape": "M0,0H1", "size": 20, "filled": false, "stroke": "#1a1a1a", "strokeWidth": 1, "opacity": 1},
 "encoding": {"y": {"field": "c", "type": "quantitative"}}},
{"data": {"name": "topEll"},
 "transform": [{"calculate": "(datum.i1+datum.i2)/2", "as": "i"}, {"calculate": "(datum.p1+datum.p2)/2", "as": "p"}],
 "mark": {"type": "point", "filled": false, "stroke": "#333", "strokeWidth": 1, "opacity": 1,
  "shape": {"expr": "'M1,0C1,'+(0.5523*datum.r)+' 0.5523,'+datum.r+' 0,'+datum.r+'C-0.5523,'+datum.r+' -1,'+(0.5523*datum.r)+' -1,0C-1,'+(-0.5523*datum.r)+' -0.5523,'+(-datum.r)+' 0,'+(-datum.r)+'C0.5523,'+(-datum.r)+' 1,'+(-0.5523*datum.r)+' 1,0Z'"},
  "angle": {"expr": "atan2(-ky*(datum.p2-datum.p1), kx*(datum.i2-datum.i1))*180/PI"},
  "size": {"expr": "pow(kx*(datum.i2-datum.i1),2)+pow(ky*(datum.p2-datum.p1),2)"}}},
{"data": {"name": "topPlus"},
 "mark": {"type": "point", "shape": "M-1,0H1M0,-1V1", "size": 100, "filled": false, "stroke": "#000", "strokeWidth": 1.7, "opacity": 1}},
{"data": {"name": "axisLines"},
 "mark": {"type": "rule", "color": "#000", "strokeWidth": 2},
 "encoding": {"x2": {"field": "i2"}, "y2": {"field": "p2"}}},
{"data": {"name": "sepLine"},
 "mark": {"type": "rule", "color": "#777", "strokeWidth": 1},
 "encoding": {"x2": {"field": "i2"}, "y2": {"field": "p2"}}},
{"data": {"name": "yTicks"},
 "mark": {"type": "point", "shape": "M0,0H-1", "size": 100, "filled": false, "stroke": "#000", "strokeWidth": 1.5, "opacity": 1}},
{"data": {"name": "yTicks"},
 "mark": {"type": "text", "align": "right", "baseline": "middle", "dx": -9, "dy": -7, "font": "DejaVu Sans", "fontWeight": "bold", "fontSize": 9.5, "color": "#000"},
 "encoding": {"text": {"field": "t"}}},
{"data": {"name": "topXTicks"},
 "mark": {"type": "point", "shape": "M0,0V1", "size": 144, "filled": false, "stroke": "#000", "strokeWidth": 2, "opacity": 1}},
{"data": {"name": "topXTicks"},
 "mark": {"type": "text", "align": "center", "baseline": "middle", "dy": 17, "font": "DejaVu Sans", "fontWeight": "bold", "fontSize": 9.5, "color": "#000"},
 "encoding": {"text": {"field": "t"}}},
{"data": {"name": "topHead"},
 "mark": {"type": "text", "align": "left", "baseline": "middle", "font": "Liberation Mono", "fontWeight": "bold", "fontSize": 11.8, "color": "#000"},
 "encoding": {"text": {"field": "t"}}}
]
},
{
"width": 856, "height": 412,
"encoding": {
 "x": {"field": "i", "type": "quantitative", "scale": {"domain": [-25.72, 304.93], "nice": false, "zero": false}, "axis": null},
 "y": {"field": "p", "type": "quantitative", "scale": {"domain": [3354.2, 8663.7], "nice": false, "zero": false}, "axis": null}
},
"layer": [
{"data": {"name": "botBars"},
 "mark": {"type": "rule", "color": "#1a1a1a", "strokeWidth": 1},
 "encoding": {"y": {"field": "l", "type": "quantitative"}, "y2": {"field": "h"}}},
{"data": {"name": "botBars"},
 "mark": {"type": "point", "shape": "M-1,0H0", "size": 20, "filled": false, "stroke": "#1a1a1a", "strokeWidth": 1, "opacity": 1},
 "encoding": {"y": {"field": "o", "type": "quantitative"}}},
{"data": {"name": "botBars"},
 "mark": {"type": "point", "shape": "M0,0H1", "size": 20, "filled": false, "stroke": "#1a1a1a", "strokeWidth": 1, "opacity": 1},
 "encoding": {"y": {"field": "c", "type": "quantitative"}}},
{"data": {"name": "botEll"},
 "transform": [{"calculate": "(datum.i1+datum.i2)/2", "as": "i"}, {"calculate": "(datum.p1+datum.p2)/2", "as": "p"}],
 "mark": {"type": "point", "filled": false, "stroke": "#333", "strokeWidth": 1, "opacity": 1,
  "shape": {"expr": "'M1,0C1,'+(0.5523*datum.r)+' 0.5523,'+datum.r+' 0,'+datum.r+'C-0.5523,'+datum.r+' -1,'+(0.5523*datum.r)+' -1,0C-1,'+(-0.5523*datum.r)+' -0.5523,'+(-datum.r)+' 0,'+(-datum.r)+'C0.5523,'+(-datum.r)+' 1,'+(-0.5523*datum.r)+' 1,0Z'"},
  "angle": {"expr": "atan2(-ky*(datum.p2-datum.p1), kx*(datum.i2-datum.i1))*180/PI"},
  "size": {"expr": "pow(kx*(datum.i2-datum.i1),2)+pow(ky*(datum.p2-datum.p1),2)"}}},
{"data": {"name": "botPlus"},
 "mark": {"type": "point", "shape": "M-1,0H1M0,-1V1", "size": 100, "filled": false, "stroke": "#000", "strokeWidth": 1.7, "opacity": 1}},
{"data": {"name": "axisLines"},
 "mark": {"type": "rule", "color": "#000", "strokeWidth": 2},
 "encoding": {"x2": {"field": "i2"}, "y2": {"field": "p2"}}},
{"data": {"name": "sepLine"},
 "mark": {"type": "rule", "color": "#777", "strokeWidth": 1},
 "encoding": {"x2": {"field": "i2"}, "y2": {"field": "p2"}}},
{"data": {"name": "yTicks"},
 "mark": {"type": "point", "shape": "M0,0H-1", "size": 100, "filled": false, "stroke": "#000", "strokeWidth": 1.5, "opacity": 1}},
{"data": {"name": "yTicks"},
 "mark": {"type": "text", "align": "right", "baseline": "middle", "dx": -9, "dy": -7, "font": "DejaVu Sans", "fontWeight": "bold", "fontSize": 9.5, "color": "#000"},
 "encoding": {"text": {"field": "t"}}},
{"data": {"name": "botXTicks"},
 "mark": {"type": "point", "shape": "M0,0V1", "size": 144, "filled": false, "stroke": "#000", "strokeWidth": 2, "opacity": 1}},
{"data": {"name": "botXTicks"},
 "mark": {"type": "text", "align": "center", "baseline": "middle", "dy": 17, "font": "DejaVu Sans", "fontWeight": "bold", "fontSize": 9.5, "color": "#000"},
 "encoding": {"text": {"field": "t"}}},
{"data": {"name": "botHead"},
 "mark": {"type": "text", "align": "left", "baseline": "middle", "font": "Liberation Mono", "fontWeight": "bold", "fontSize": 11.8, "color": "#000"},
 "encoding": {"text": {"field": "t"}}}
]
}
]
}
